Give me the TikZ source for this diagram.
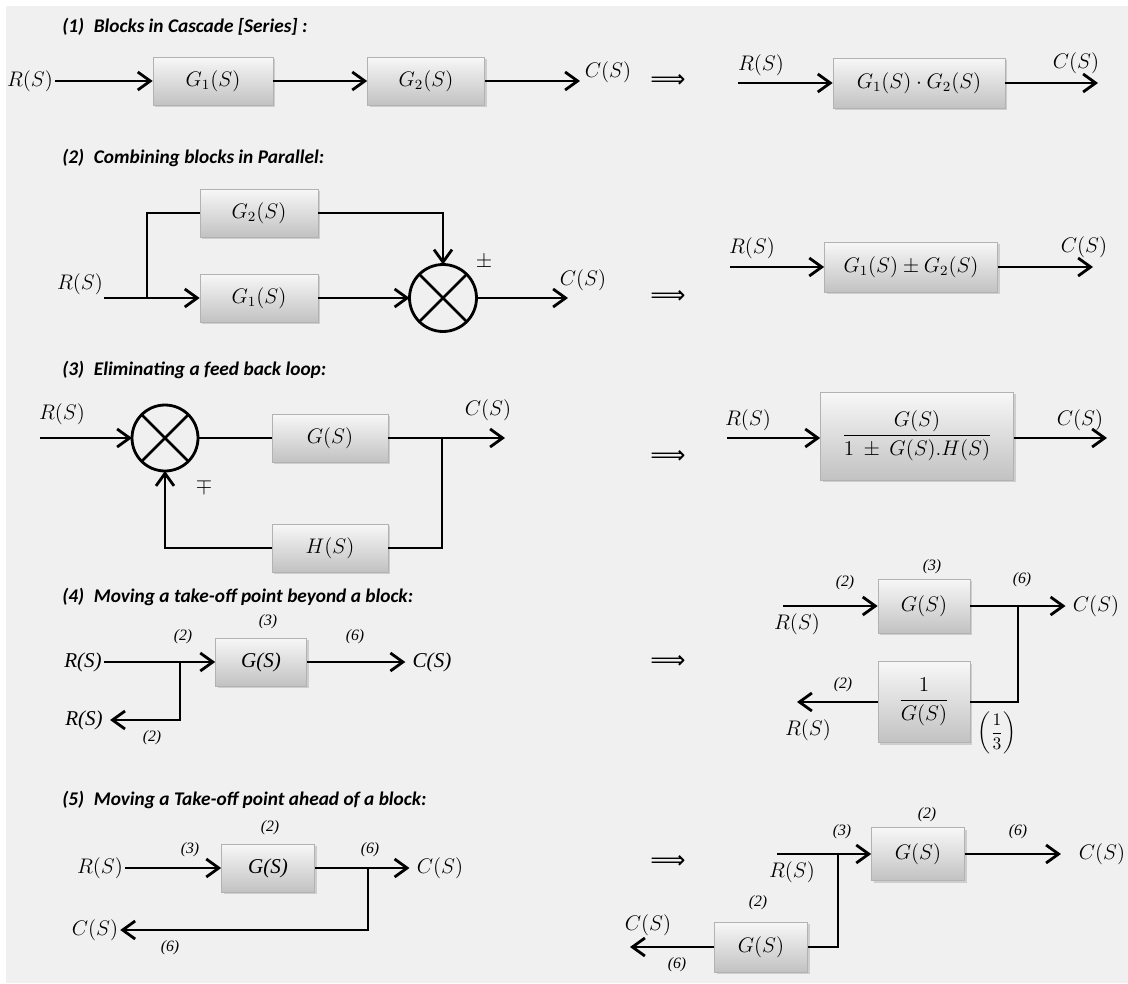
\documentclass[tikz,border=0pt]{standalone}
\usepackage{amsmath}
\usepackage[no-math]{fontspec}
\setmainfont{Carlito}
\newfontfamily\tnr{Liberation Serif}
\newfontfamily\djv{DejaVu Sans}
\usetikzlibrary{arrows.meta, positioning, shadows, calc}

\begin{document}
\begin{tikzpicture}[
    x=0.02cm, y=-0.02cm,
    blk/.style={draw=black!30, top color=black!3, bottom color=black!24, minimum height=0.96cm, inner sep=2pt, font=\fontsize{12}{14}\selectfont, drop shadow={opacity=0.3, shadow xshift=1.2pt, shadow yshift=-1.2pt}},
    tblk/.style={blk, font=\tnr\itshape\fontsize{12}{14}\selectfont},
    sum/.style={circle, draw, line width=1.6pt, minimum size=1.34cm, inner sep=0pt, outer sep=0pt},
    sig/.style={line width=1.6pt, -{Straight Barb[length=2.5mm, width=3.6mm]}},
    wire/.style={line width=1.6pt},
    lbl/.style={font=\fontsize{12}{14}\selectfont, inner sep=1pt},
    tlbl/.style={font=\tnr\itshape\fontsize{12}{14}\selectfont, inner sep=1pt},
    num/.style={font=\tnr\itshape\fontsize{9}{10}\selectfont, inner sep=0pt},
    ttl/.style={font=\bfseries\itshape\fontsize{11}{13}\selectfont, anchor=west, inner sep=0pt},
    imp/.style={font=\djv\fontsize{14}{16}\selectfont, inner sep=0pt},
]
\useasboundingbox (0,0) rectangle (1128,983);
\fill[white] (0,0) rectangle (1128,983);
\fill[black!6] (6,6) rectangle (1128,983);

% (1) cascade
\node[ttl] (t1) at (62,27) {(1)\enspace Blocks in Cascade [Series] :};
\node[lbl] (r1) at (30,81) {$R(S)$};
\node[blk, minimum width=2.4cm] (g11) at (213,81) {$G_1(S)$};
\node[blk, minimum width=2.34cm] (g12) at (426,81) {$G_2(S)$};
\coordinate (c1) at (580,81);
\node[lbl] (c1l) at (608,72) {$C(S)$};
\draw[sig] (r1) -- (g11);
\draw[sig] (g11) -- (g12);
\draw[sig] (g12) -- (c1);
\node[imp] (i1) at (668,81) {⟹};
\coordinate (r1e) at (738,83);
\node[lbl] (r1el) at (761,65) {$R(S)$};
\node[blk, minimum width=3.44cm, minimum height=1cm] (g1g2) at (919,83) {$G_1(S)\cdot G_2(S)$};
\coordinate (c1e) at (1098,83);
\node[lbl] (c1el) at (1076,63) {$C(S)$};
\draw[sig] (r1e) -- (g1g2);
\draw[sig] (g1g2) -- (c1e);

% (2) parallel
\node[ttl] (t2) at (62,158) {(2)\enspace Combining blocks in Parallel:};
\coordinate (r2) at (104,298);
\node[lbl] (r2l) at (80,284) {$R(S)$};
\coordinate (b2) at (147,298);
\node[blk, minimum width=2.36cm] (g22) at (259,213) {$G_2(S)$};
\node[blk, minimum width=2.36cm] (g21) at (259,298) {$G_1(S)$};
\node[sum] (s2) at (443,298) {};
\draw[wire] (s2.north east) -- (s2.south west) (s2.north west) -- (s2.south east);
\node[lbl] (pm2) at (484,262) {$\pm$};
\coordinate (c2) at (568,298);
\node[lbl] (c2l) at (583,280) {$C(S)$};
\draw[sig] (r2) -- (g21);
\draw[wire] (b2) |- (g22);
\draw[sig] (g22) -| (s2);
\draw[sig] (g21) -- (s2);
\draw[sig] (s2) -- (c2);
\node[imp] (i2) at (668,297) {⟹};
\coordinate (r2e) at (730,267);
\node[lbl] (r2el) at (752,248) {$R(S)$};
\node[blk, minimum width=3.46cm, minimum height=1cm] (g1pg2) at (911,267) {$G_1(S)\pm G_2(S)$};
\coordinate (c2e) at (1093,267);
\node[lbl] (c2el) at (1084,247) {$C(S)$};
\draw[sig] (r2e) -- (g1pg2);
\draw[sig] (g1pg2) -- (c2e);

% (3) feedback loop
\node[ttl] (t3) at (62,370) {(3)\enspace Eliminating a feed back loop:};
\coordinate (r3) at (40,438);
\node[lbl] (r3l) at (62,414) {$R(S)$};
\node[sum, minimum size=1.32cm] (s3) at (165,438) {};
\draw[wire] (s3.north east) -- (s3.south west) (s3.north west) -- (s3.south east);
\node[lbl] (mp3) at (204,486) {$\mp$};
\node[blk, minimum width=2.32cm] (g3) at (330,438) {$G(S)$};
\node[blk, minimum width=2.32cm] (h3) at (330,548) {$H(S)$};
\coordinate (k3) at (442,438);
\coordinate (c3) at (505,438);
\node[lbl] (c3l) at (488,410) {$C(S)$};
\draw[sig] (r3) -- (s3);
\draw[wire] (s3) -- (g3);
\draw[sig] (g3) -- (c3);
\draw[wire] (k3) |- (h3);
\draw[sig] (h3) -| (s3);
\node[imp] (i3) at (668,457) {⟹};
\coordinate (r3e) at (727,438);
\node[lbl] (r3el) at (748,420) {$R(S)$};
\node[blk, minimum width=3.86cm, minimum height=1.76cm] (cl3) at (917,436) {$\dfrac{G(S)}{1\ \pm\ G(S).H(S)}$};
\coordinate (c3e) at (1107,438);
\node[lbl] (c3el) at (1080,420) {$C(S)$};
\draw[sig] (r3e) -- (r3e -| cl3.west);
\draw[sig] (c3e -| cl3.east) -- (c3e);

% (4) take-off point beyond a block
\node[ttl] (t4) at (62,597) {(4)\enspace Moving a take-off point beyond a block:};
\node[tlbl] (r4) at (83,662) {R(S)};
\node[tblk, minimum width=1.82cm] (g4) at (261,662) {G(S)};
\node[tlbl] (c4) at (432,662) {C(S)};
\coordinate (b4) at (180,662);
\node[tlbl] (r4b) at (84,720) {R(S)};
\draw[sig] (r4) -- (g4);
\draw[sig, shorten >=3pt] (g4) -- (c4);
\draw[sig, shorten >=3pt] (b4) |- (r4b);
\node[num] (n4a) at (183,637) {(2)};
\node[num] (n4b) at (268,622) {(3)};
\node[num] (n4c) at (355,637) {(6)};
\node[num] (n4d) at (152,738) {(2)};
\node[imp] (i4) at (668,662) {⟹};
\coordinate (r4e) at (783,606);
\node[lbl] (r4el) at (797,624) {$R(S)$};
\node[blk, minimum width=1.84cm, minimum height=1.08cm] (g4r) at (924,606) {$G(S)$};
\node[lbl] (c4r) at (1096,606) {$C(S)$};
\coordinate (k4) at (1018,606);
\node[blk, minimum width=1.84cm, minimum height=1.62cm] (ig4) at (924,702) {$\dfrac{1}{G(S)}$};
\coordinate (r4f) at (797,702);
\node[lbl] (r4fl) at (808,730) {$R(S)$};
\draw[sig] (r4e) -- (g4r);
\draw[sig, shorten >=3pt] (g4r) -- (c4r);
\draw[wire] (k4) |- (ig4);
\draw[sig] (ig4) -- (r4f);
\node[num] (n4e) at (845,583) {(2)};
\node[num] (n4f) at (932,567) {(3)};
\node[num] (n4g) at (1022,580) {(6)};
\node[num] (n4h) at (843,685) {(2)};
\node[lbl, font=\fontsize{10}{12}\selectfont] (n4i) at (997,733) {$\left(\dfrac{1}{3}\right)$};

% (5) take-off point ahead of a block
\node[ttl] (t5) at (62,800) {(5)\enspace Moving a Take-off point ahead of a block:};
\node[lbl] (r5) at (100,868) {$R(S)$};
\node[tblk, minimum width=1.86cm] (g5) at (268,868) {G(S)};
\node[lbl] (c5) at (440,868) {$C(S)$};
\coordinate (k5) at (368,868);
\node[lbl] (c5b) at (95,930) {$C(S)$};
\draw[sig] (r5) -- (g5);
\draw[sig, shorten >=3pt] (g5) -- (c5);
\draw[sig] (k5) |- (c5b);
\node[num] (n5a) at (190,850) {(3)};
\node[num] (n5b) at (270,828) {(2)};
\node[num] (n5c) at (370,850) {(6)};
\node[num] (n5d) at (170,948) {(6)};
\node[imp] (i5) at (668,862) {⟹};
\coordinate (r5e) at (777,854);
\node[lbl] (r5el) at (792,872) {$R(S)$};
\node[blk, minimum width=1.86cm, minimum height=1.06cm] (g5r) at (918,854) {$G(S)$};
\node[lbl] (c5r) at (1102,854) {$C(S)$};
\coordinate (k5r) at (838,854);
\node[blk, minimum width=1.86cm, minimum height=1cm] (g5l) at (761,947) {$G(S)$};
\coordinate (c5e) at (630,947);
\node[lbl] (c5el) at (648,925) {$C(S)$};
\draw[sig] (r5e) -- (g5r);
\draw[sig, shorten >=9pt] (g5r) -- (c5r);
\draw[wire] (k5r) |- (g5l);
\draw[sig] (g5l) -- (c5e);
\node[num] (n5e) at (842,832) {(3)};
\node[num] (n5f) at (927,815) {(2)};
\node[num] (n5g) at (1018,832) {(6)};
\node[num] (n5h) at (758,903) {(2)};
\node[num] (n5i) at (677,965) {(6)};

\end{tikzpicture}
\end{document}
